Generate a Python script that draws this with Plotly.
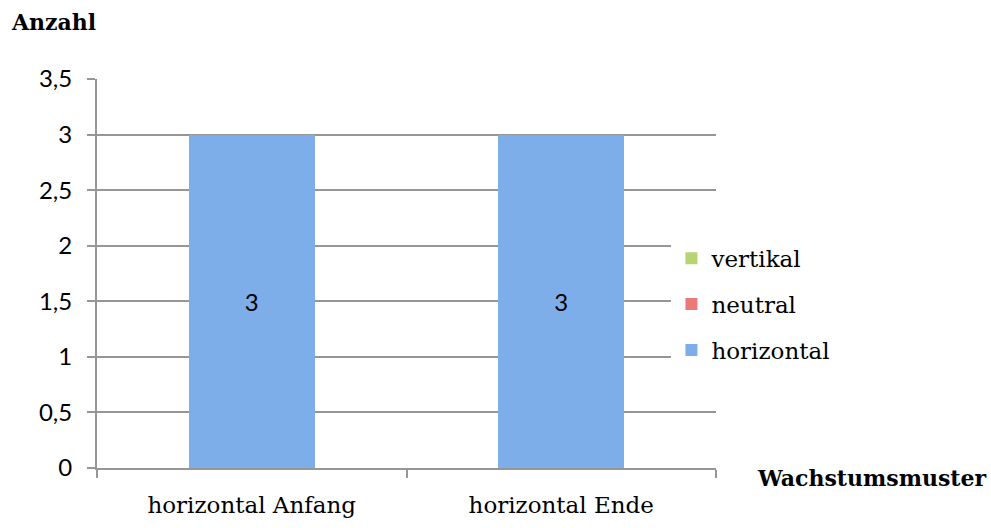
import plotly.graph_objects as go

# Wachstumsmuster je Messzeitpunkt (gestapelt)
categories = ["horizontal Anfang", "horizontal Ende"]
horizontal = [3, 3]
neutral = [0, 0]
vertikal = [0, 0]

y_ticks = [0, 0.5, 1, 1.5, 2, 2.5, 3, 3.5]

SERIF = "DejaVu Serif"
SANS = "Lato"
GRID = "#969696"

fig = go.Figure()

# stacked bottom-up; legend lists them top-down (vertikal first)
series = [
    ("horizontal", horizontal, "#7daeea", True, 3),
    ("neutral", neutral, "#ea7b78", False, 2),
    ("vertikal", vertikal, "#b6d46f", False, 1),
]
for name, values, color, labelled, rank in series:
    fig.add_trace(go.Bar(
        x=categories,
        y=values,
        name=name,
        legendgroup=name,
        legendrank=rank,
        marker=dict(color=color, line=dict(width=0)),
        text=[str(v) for v in values] if labelled else None,
        textposition="inside" if labelled else "none",
        insidetextanchor="middle",
        textangle=0,
        textfont=dict(family=SANS, size=24, color="#000000"),
        hoverinfo="x+y+name",
    ))

fig.update_layout(
    width=991,
    height=528,
    margin=dict(l=97, r=275, t=79, b=60, autoexpand=False),
    paper_bgcolor="white",
    plot_bgcolor="white",
    barmode="stack",
    bargap=0.593,
    separators=",.",
    title=dict(
        text="<b>Anzahl</b>",
        font=dict(family=SERIF, size=22, color="#000000"),
        x=12 / 991, xref="container", xanchor="left",
        y=1 - 15 / 528, yref="container", yanchor="top",
    ),
    legend=dict(
        x=0.928, xanchor="left",
        y=0.421, yanchor="middle",
        bgcolor="white",
        borderwidth=0,
        traceorder="grouped",
        tracegroupgap=13,
        font=dict(family=SERIF, size=23, color="#000000"),
        itemwidth=30,
    ),
    annotations=[dict(
        text="<b>Wachstumsmuster</b>",
        xref="paper", yref="paper",
        x=(755 - 97) / 619, y=-10 / 389,
        xanchor="left", yanchor="middle",
        showarrow=False,
        font=dict(family=SERIF, size=22, color="#000000"),
    )],
)

fig.update_yaxes(
    range=[0, 3.5],
    tickvals=y_ticks,
    automargin=False,
    showgrid=True, gridcolor=GRID, gridwidth=2,
    showline=True, linecolor=GRID, linewidth=2,
    ticks="outside", ticklen=8, tickcolor=GRID, tickwidth=2,
    tickfont=dict(family=SANS, size=24, color="#000000"),
    ticklabelstandoff=10,
    zeroline=False,
)
fig.update_xaxes(
    type="category",
    automargin=False,
    showgrid=False,
    showline=True, linecolor=GRID, linewidth=2,
    ticks="outside", tickson="boundaries", ticklen=8, tickcolor=GRID, tickwidth=2,
    tickfont=dict(family=SERIF, size=23, color="#000000"),
    ticklabelstandoff=15,
)

fig.write_html("out.html")
